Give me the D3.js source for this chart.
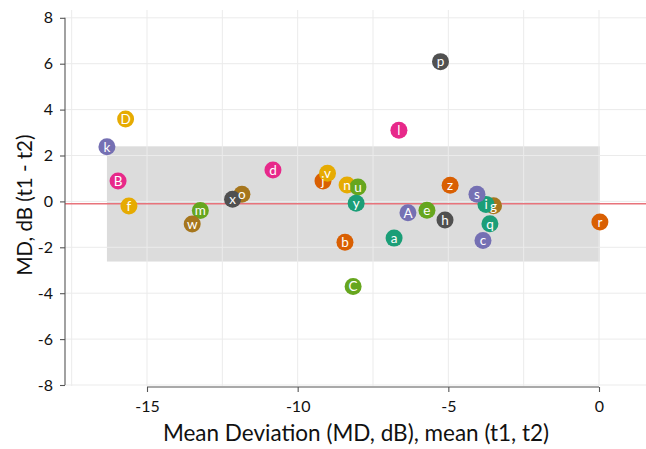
<!DOCTYPE html>
<html>
<head>
<meta charset="utf-8">
<script src="https://cdn.jsdelivr.net/npm/d3@7"></script>
<style>
  html, body { margin: 0; padding: 0; background: #fff; }
  svg { display: block; font-family: Lato, "Open Sans", sans-serif; }
</style>
</head>
<body>
<svg id="chart" width="646" height="449"></svg>
<script>
// ---- data ----
const labels = ["a","b","c","d","e","f","g","h","i","j","k","l","m","n","o","p","q","r","s","u","v","w","x","y","z","A","B","C","D"];
const meanMD = [-6.80,-8.43,-3.85,-10.82,-5.71,-15.60,-3.50,-5.11,-3.75,-9.16,-16.33,-6.64,-13.23,-8.36,-11.85,-5.26,-3.62,0.03,-4.05,-8.00,-9.01,-13.50,-12.16,-8.06,-4.94,-6.34,-15.96,-8.16,-15.71];
const diffMD = [-1.60,-1.78,-1.70,1.37,-0.39,-0.20,-0.19,-0.81,-0.13,0.89,2.38,3.10,-0.40,0.71,0.31,6.09,-0.97,-0.90,0.31,0.63,1.23,-0.98,0.09,-0.08,0.70,-0.49,0.89,-3.71,3.59];
const colourIndex = [0,1,2,3,4,5,6,7,0,1,2,3,4,5,6,7,0,1,2,4,5,6,7,0,1,2,3,4,5];
const palette = ["#1B9E77","#D95F02","#7570B3","#E7298A","#66A61E","#E6AB02","#A6761D","#505050"];
const meanDiff = -0.10;
const limitsOfAgreement = [-2.62, 2.40];
const xTicks = [-15, -10, -5, 0];
const xGrid = [-17.5, -15, -12.5, -10, -7.5, -5, -2.5, 0];
const yTicks = [-8, -6, -4, -2, 0, 2, 4, 6, 8];
const xTitle = "Mean Deviation (MD, dB), mean (t1, t2)";
const yTitle = "MD, dB (t1 - t2)";

// ---- scales ----
const svg = d3.select("#chart");
const x = d3.scaleLinear().domain([-15, 0]).range([147, 599]);
const y = d3.scaleLinear().domain([-8, 8]).range([385, 17.8]);
const panelLeft = 65, panelRight = 646, panelTop = 10, panelBottom = 386;
const fmt = d => String(d);

// band
const xMin = d3.min(meanMD), xMax = d3.max(meanMD);
svg.append("rect")
  .attr("x", x(xMin)).attr("width", x(xMax) - x(xMin))
  .attr("y", y(limitsOfAgreement[1])).attr("height", y(limitsOfAgreement[0]) - y(limitsOfAgreement[1]))
  .attr("fill", "#dcdcdc");

// gridlines
svg.append("g").selectAll("line").data(yTicks).join("line")
  .attr("x1", panelLeft).attr("x2", panelRight)
  .attr("y1", d => y(d)).attr("y2", d => y(d))
  .attr("stroke", "#ebebeb").attr("stroke-width", 1);
svg.append("g").selectAll("line").data(xGrid).join("line")
  .attr("x1", d => x(d)).attr("x2", d => x(d))
  .attr("y1", panelTop).attr("y2", panelBottom)
  .attr("stroke", "#ebebeb").attr("stroke-width", 1);

// mean line
svg.append("line")
  .attr("x1", panelLeft).attr("x2", panelRight)
  .attr("y1", y(meanDiff)).attr("y2", y(meanDiff))
  .attr("stroke", "#e8737b").attr("stroke-width", 1.5);

// axes
const yAxis = d3.axisLeft(y).tickValues(yTicks).tickSize(5).tickPadding(7).tickFormat(fmt);
const gy = svg.append("g").attr("transform", `translate(${panelLeft},0)`).call(yAxis);
const xAxis = d3.axisBottom(x).tickValues(xTicks).tickSize(5).tickPadding(9).tickFormat(fmt);
const gx = svg.append("g").attr("transform", `translate(0,${387})`).call(xAxis);
[gx, gy].forEach(g => {
  g.select(".domain").remove();
  g.selectAll(".tick line").attr("stroke", "#555").attr("stroke-width", 1.1);
  g.selectAll("text").attr("fill", "#111").attr("font-size", 16).attr("font-family", "Lato, sans-serif");
});
gy.append("line").attr("x1", 0).attr("x2", 0).attr("y1", y(8)).attr("y2", y(-8)).attr("stroke", "#555").attr("stroke-width", 1.1);
gx.append("line").attr("y1", 0).attr("y2", 0).attr("x1", x(-15)).attr("x2", x(0)).attr("stroke", "#555").attr("stroke-width", 1.1);

// titles
svg.append("text").attr("x", 356).attr("y", 441).attr("text-anchor", "middle")
  .attr("font-size", 22.5).attr("fill", "#111").text(xTitle);
svg.append("text").attr("transform", `translate(32,205) rotate(-90)`).attr("text-anchor", "middle")
  .attr("font-size", 20.5).attr("fill", "#111").text(yTitle);

// points
const pts = labels.map((l, i) => ({l, mx: meanMD[i], d: diffMD[i], c: palette[colourIndex[i]]}));
svg.append("g").selectAll("circle").data(pts).join("circle")
  .attr("cx", d => x(d.mx)).attr("cy", d => y(d.d)).attr("r", 8.5)
  .attr("fill", d => d.c);
svg.append("g").selectAll("text").data(pts).join("text")
  .attr("x", d => x(d.mx)).attr("y", d => y(d.d)).attr("dy", "0.36em")
  .attr("text-anchor", "middle").attr("font-size", 13.5).attr("fill", "#fff")
  .text(d => d.l);
</script>
</body>
</html>
